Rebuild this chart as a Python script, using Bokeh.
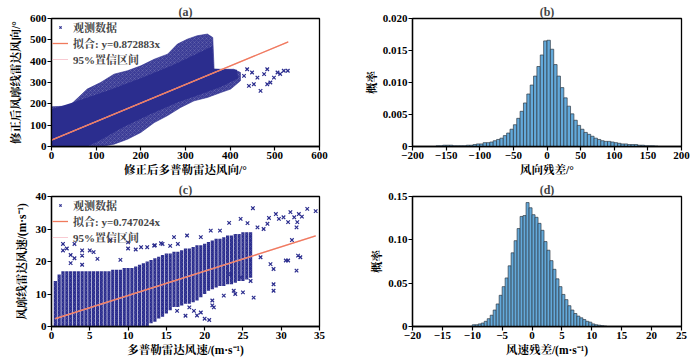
from bokeh.plotting import figure
from bokeh.layouts import column, row
from bokeh.models import Range1d, FixedTicker, NumeralTickFormatter, Legend, LegendItem
from bokeh.embed import file_html
from bokeh.resources import INLINE

FONT = "'Liberation Serif', 'Noto Serif CJK SC', 'Noto Sans CJK SC', serif"
NAVY = "#2b2d8e"
FIT = "#f07a5c"
CI = "#f6bcc6"
BAR = "#63a9da"

# ---------------- (a) wind direction scatter ----------------
a_env_x = [0, 0, 40, 80, 110, 140, 170, 200, 230, 260, 282, 304, 326, 349, 361, 364, 408, 423,
           423, 401, 379, 349, 319, 289, 259, 230, 200, 170, 140, 110]
a_env_y = [0, 186, 190, 269, 300, 339, 355, 378, 409, 433, 480, 503, 519, 527, 511, 362, 362, 347,
           308, 269, 253, 230, 214, 183, 144, 112, 66, 34, 11, 0]
a_core_x = [0, 0, 60, 130, 200, 270, 330, 360, 363, 415, 418, 380, 340, 280, 220, 160, 110, 80]
a_core_y = [0, 175, 215, 265, 320, 380, 440, 470, 365, 360, 320, 280, 250, 205, 150, 90, 30, 0]
a_pts_x = [438, 449, 461, 453, 476, 483, 498, 506, 520, 529, 468, 483, 442, 431, 490, 512]
a_pts_y = [362, 347, 323, 292, 339, 362, 323, 347, 355, 355, 261, 292, 284, 331, 300, 340]
a_fit_x = [0, 530]
a_fit_y = [30, 490]
a_ci_lo = [29, 489]
a_ci_hi = [31, 491]

# ---------------- (b) wind direction residual histogram ----------------
b_left = list(range(-165, 165, 5))
b_prob = [0.0001, 0.0001, 0.0002, 0.0002, 0.0002, 0.0001, 0.0001, 0.0001, 0.0001, 0.0002, 0.0002,
          0.0003, 0.0004, 0.0004, 0.0006, 0.0006, 0.0007, 0.0009, 0.0011, 0.0013, 0.0017, 0.0021,
          0.0027, 0.0034, 0.0044, 0.0055, 0.0068, 0.0082, 0.0096, 0.0110, 0.0125, 0.0143, 0.0165,
          0.0166, 0.0152, 0.0128, 0.0110, 0.0092, 0.0076, 0.0063, 0.0051, 0.0041, 0.0033, 0.0027,
          0.0022, 0.0019, 0.0016, 0.0013, 0.0011, 0.0009, 0.0008, 0.0008, 0.0007, 0.0006, 0.0005,
          0.0004, 0.0004, 0.0003, 0.0003, 0.0003, 0.0002, 0.0002, 0.0001, 0.0001, 0.0001, 0.00005]

# ---------------- (c) wind speed scatter ----------------
c_col_x = [0.5, 1.0, 1.5, 2.0, 2.5, 3.0, 3.5, 4.0, 4.5, 5.0, 5.5, 6.0, 6.5, 7.0, 7.5, 8.0, 8.5,
           9.0, 9.5, 10.0, 10.5, 11.0, 11.5, 12.0, 12.5, 13.0, 13.5, 14.0, 14.5, 15.0, 15.5, 16.0,
           16.5, 17.0, 17.5, 18.0, 18.5, 19.0, 19.5, 20.0, 20.5, 21.0, 21.5, 22.0, 22.5, 23.0,
           23.5, 24.0, 24.5, 25.0, 25.5, 26.0]
c_col_top = [14, 16, 17, 17, 17, 17, 17, 17, 17, 17, 17, 17, 17, 17, 17, 17.5, 17.5, 17.5, 18, 18,
             18, 18.5, 19, 19.5, 20, 20.5, 21, 21.5, 22, 22.5, 22.5, 23, 23, 23.5, 24, 24, 24.5,
             25, 25, 25.5, 26, 26.5, 27, 27, 27.5, 28, 28, 28.5, 28.5, 29, 29, 29]
c_col_bot = [0, 0, 0, 0, 0, 0, 0, 0, 0, 0, 0, 0, 0, 0, 0, 0, 0, 0, 0, 0, 0, 0, 0, 0, 0, 1, 1.5, 2.5,
             3, 4, 5, 6, 6, 6.5, 7, 7, 7.5, 8, 9, 10, 11, 11.5, 12, 12.5, 12.5, 13, 13, 13.5, 14,
             14, 14.5, 15]
c_pts_x = [1.5, 3.0, 4.0, 6.0, 7.7, 10.0, 11.7, 13.4, 14.3, 16.0, 17.7, 19.5, 20.8, 22.0, 23.2,
           24.7, 25.6, 26.3, 26.9, 27.7, 28.2, 28.4, 29.3, 29.7, 30.3, 30.9, 31.7, 32.1, 32.3, 32.7,
           33.4, 34.5, 32.0, 31.2, 27.3, 28.6, 29.0, 29.0, 29.0, 30.6, 30.9, 31.4, 32.0, 32.5, 32.2,
           26.4, 26.0, 24.7, 23.8, 23.4, 21.2, 20.6, 19.5, 18.6, 17.5, 16.4,
           1.5, 2.0, 2.5, 2.5, 3.0, 4.0, 4.0, 5.0, 5.5, 9.0, 10.0, 11.0, 12.5, 13.5, 14.5, 15.5,
           16.5, 18.0, 19.0, 20.0, 21.0, 21.0, 22.5, 24.0, 25.0]
c_pts_y = [25.4, 25.4, 21.8, 20.8, 26.6, 25.9, 24.4, 24.9, 25.6, 27.5, 28.0, 27.5, 29.5, 29.5, 31.9,
           33.1, 31.8, 36.4, 30.5, 30.0, 31.6, 33.4, 34.6, 33.1, 33.6, 32.1, 33.6, 32.1, 34.6, 33.8,
           36.2, 35.5, 30.5, 35.2, 21.3, 19.2, 17.7, 13.0, 11.0, 20.3, 20.3, 26.6, 17.2, 21.3, 21.8,
           8.9, 14.0, 15.1, 11.0, 16.1, 5.9, 2.0, 4.3, 4.8, 3.3, 4.8,
           23.4, 24.0, 22.0, 19.5, 21.0, 23.4, 19.0, 23.4, 22.9, 20.5, 24.0, 23.7, 24.4, 25.0, 25.4,
           24.8, 25.4, 5.9, 3.4, 2.4, 6.5, 8.0, 9.5, 10.0, 10.5]
c_fit_x = [0.5, 34.5]
c_fit_y = [2.4, 27.9]
c_ci_lo = [2.3, 27.8]
c_ci_hi = [2.5, 28.0]

# ---------------- (d) wind speed residual histogram ----------------
d_left = [x / 2 for x in range(-20, 25)]
d_prob = [0.002, 0.002, 0.003, 0.004, 0.006, 0.009, 0.013, 0.019, 0.026, 0.036, 0.046, 0.056,
          0.070, 0.085, 0.099, 0.113, 0.127, 0.128, 0.143, 0.137, 0.129, 0.126, 0.119, 0.111,
          0.098, 0.088, 0.076, 0.066, 0.055, 0.046, 0.037, 0.031, 0.024, 0.019, 0.015, 0.012,
          0.010, 0.008, 0.006, 0.005, 0.003, 0.002, 0.0015, 0.001, 0.0005]


def style(p, title, ylab_standoff):
    p.title.text = title
    p.title.align = "center"
    p.title.text_font = FONT
    p.title.text_font_size = "12px"
    p.title.text_font_style = "bold"
    p.title.standoff = 0
    p.title.offset = 0
    p.outline_line_color = "black"
    p.outline_line_width = 1.3
    p.outline_line_alpha = 1
    p.xgrid.visible = False
    p.ygrid.visible = False
    for ax in p.axis:
        ax.axis_line_width = 1.3
        ax.major_tick_out = 4
        ax.major_tick_in = 0
        ax.minor_tick_out = 0
        ax.minor_tick_in = 0
        ax.major_tick_line_width = 1.2
        ax.major_label_text_font = FONT
        ax.major_label_text_font_size = "11px"
        ax.major_label_text_font_style = "bold"
        ax.major_label_text_color = "black"
        ax.axis_label_text_font = FONT
        ax.axis_label_text_font_size = "11.5px"
        ax.axis_label_text_font_style = "bold"
        ax.axis_label_text_color = "black"
        ax.major_label_standoff = 1
        ax.axis_label_standoff = 2
    p.yaxis.axis_label_standoff = ylab_standoff


def scatter_panel(title, w, h, bl, br, bt, bb, xr, yr, xt, yt, xlabel, ylabel):
    p = figure(width=w, height=h, output_backend="svg", toolbar_location=None,
               x_range=Range1d(*xr), y_range=Range1d(*yr),
               min_border_left=bl, min_border_right=br, min_border_top=bt, min_border_bottom=bb)
    style(p, title, 5)
    p.xaxis.ticker = FixedTicker(ticks=xt)
    p.yaxis.ticker = FixedTicker(ticks=yt)
    p.xaxis.axis_label = xlabel
    p.yaxis.axis_label = ylabel
    return p


# ---- panel a
pa = scatter_panel("(a)", 340, 180, 51, 21, 18, 34, (0, 600), (0, 600),
                   [0, 100, 200, 300, 400, 500, 600], [0, 100, 200, 300, 400, 500, 600],
                   "修正后多普勒雷达风向/°", "修正后风廓线雷达风向/°")
pa.patch(a_env_x, a_env_y, fill_color=NAVY, fill_alpha=0.92, line_color=NAVY, line_alpha=0.6,
         hatch_pattern="x", hatch_color="white", hatch_alpha=0.18, hatch_scale=4, hatch_weight=0.6)
pa.patch(a_core_x, a_core_y, fill_color=NAVY, line_color=None)
ra = pa.scatter(a_pts_x, a_pts_y, marker="x", size=5, line_color=NAVY, line_width=1.2)
ra_ci1 = pa.line(a_fit_x, a_ci_lo, line_color=CI, line_width=0.8)
pa.line(a_fit_x, a_ci_hi, line_color=CI, line_width=0.8)
ra_fit = pa.line(a_fit_x, a_fit_y, line_color=FIT, line_width=1.3)

# ---- panel c
pc = scatter_panel("(c)", 340, 179, 51, 21, 16, 33, (0, 35), (0, 40),
                   [0, 5, 10, 15, 20, 25, 30, 35], [0, 10, 20, 30, 40],
                   "多普勒雷达风速/(m·s⁻¹)", "风廓线雷达风速/(m·s⁻¹)")
pc.vbar(x=c_col_x, width=0.42, top=c_col_top, bottom=c_col_bot, fill_color=NAVY, line_color=None,
        hatch_pattern="x", hatch_color="white", hatch_alpha=0.15, hatch_scale=4, hatch_weight=0.6)
rc = pc.scatter(c_pts_x, c_pts_y, marker="x", size=5, line_color=NAVY, line_width=1.2)
rc_ci1 = pc.line(c_fit_x, c_ci_lo, line_color=CI, line_width=0.8)
pc.line(c_fit_x, c_ci_hi, line_color=CI, line_width=0.8)
rc_fit = pc.line(c_fit_x, c_fit_y, line_color=FIT, line_width=1.3)


def add_legend(p, r_pts, r_fit, r_ci, fit_text):
    leg = Legend(items=[LegendItem(label="观测数据", renderers=[r_pts]),
                        LegendItem(label=fit_text, renderers=[r_fit]),
                        LegendItem(label="95%置信区间", renderers=[r_ci])],
                 location="top_left", background_fill_alpha=0, border_line_color=None,
                 label_text_font=FONT, label_text_font_size="11px", label_text_font_style="bold",
                 label_text_line_height=0.8,
                 glyph_height=8, glyph_width=16, label_height=8, spacing=-9, padding=2, margin=1,
                 label_standoff=5)
    p.add_layout(leg)


add_legend(pa, ra, ra_fit, ra_ci1, "拟合: y=0.872883x")
add_legend(pc, rc, rc_fit, rc_ci1, "拟合: y=0.747024x")


# ---- histograms
def hist_panel(title, w, h, bl, br, bt, bb, xr, yr, xt, yt, fmt, left, prob, width, xlabel):
    p = figure(width=w, height=h, output_backend="svg", toolbar_location=None,
               x_range=Range1d(*xr), y_range=Range1d(*yr),
               min_border_left=bl, min_border_right=br, min_border_top=bt, min_border_bottom=bb)
    style(p, title, 2)
    p.xaxis.ticker = FixedTicker(ticks=xt)
    p.yaxis.ticker = FixedTicker(ticks=yt)
    p.yaxis.formatter = NumeralTickFormatter(format=fmt)
    p.yaxis.major_label_overrides = {0: "0"}
    p.xaxis.axis_label = xlabel
    p.yaxis.axis_label = "概率"
    p.quad(left=left, right=[v + width for v in left], bottom=0, top=prob,
           fill_color=BAR, line_color="#2f3a44", line_width=0.7)
    return p


pb = hist_panel("(b)", 355, 180, 72, 14, 18, 34, (-200, 200), (0, 0.02),
                [-200, -150, -100, -50, 0, 50, 100, 150, 200], [0, 0.005, 0.010, 0.015, 0.020],
                "0.000", b_left, b_prob, 5, "风向残差/°")
pd = hist_panel("(d)", 355, 179, 72, 14, 16, 33, (-20, 25), (0, 0.15),
                [-20, -15, -10, -5, 0, 5, 10, 15, 20, 25], [0, 0.05, 0.10, 0.15],
                "0.00", d_left, d_prob, 0.5, "风速残差/(m·s⁻¹)")

layout = column(row(pa, pb), row(pc, pd))
open("out.html", "w").write(file_html(layout, INLINE))
